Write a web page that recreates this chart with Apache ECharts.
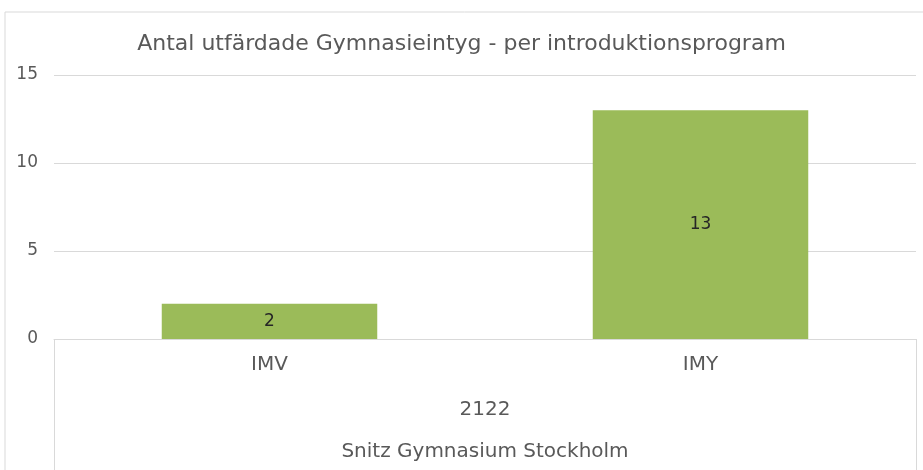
<!DOCTYPE html>
<html>
<head>
<meta charset="utf-8">
<script src="https://cdn.jsdelivr.net/npm/echarts@6/dist/echarts.min.js"></script>
<style>
  html, body { margin: 0; padding: 0; background: #fff; }
  #chart { width: 923px; height: 470px; }
</style>
</head>
<body>
<div id="chart"></div>
<script>
const programs = ["IMV", "IMY"];
const counts = [2, 13];
const yearLabels = ["2122"];
const schoolLabels = ["Snitz Gymnasium Stockholm"];

const font = "'DejaVu Sans', sans-serif";
const grey = "#595959";
const lineColor = "#d9d9d9";

const chart = echarts.init(document.getElementById("chart"));

chart.setOption({
  animation: false,
  textStyle: { fontFamily: font },
  title: {
    text: "Antal utfärdade Gymnasieintyg - per introduktionsprogram",
    left: "center",
    top: 28,
    textStyle: { fontFamily: font, fontSize: 22, fontWeight: "normal", color: grey },
  },
  // chart frame
  graphic: [
    {
      type: "rect",
      shape: { x: 5, y: 12, width: 940, height: 480 },
      style: { fill: "none", stroke: lineColor, lineWidth: 1 },
      silent: true,
    },
  ],
  grid: { left: 54, right: 7, top: 75, bottom: 131 },
  xAxis: [
    {
      type: "category",
      data: programs,
      axisLine: { show: true, lineStyle: { color: lineColor } },
      axisTick: { show: false },
      axisLabel: { color: grey, fontSize: 20, margin: 16 },
    },
    {
      type: "category",
      data: yearLabels,
      position: "bottom",
      axisLine: { show: false },
      axisTick: { show: true, length: 140, lineStyle: { color: lineColor } },
      axisLabel: { color: grey, fontSize: 20, margin: 61 },
    },
    {
      type: "category",
      data: schoolLabels,
      position: "bottom",
      axisLine: { show: false },
      axisTick: { show: false },
      axisLabel: { color: grey, fontSize: 20, margin: 103 },
    },
  ],
  yAxis: {
    type: "value",
    min: 0,
    max: 15,
    interval: 5,
    axisLine: { show: false },
    axisTick: { show: false },
    axisLabel: { color: grey, fontSize: 17, margin: 16 },
    splitLine: { lineStyle: { color: lineColor, width: 1 } },
  },
  series: [
    {
      type: "bar",
      xAxisIndex: 0,
      data: counts,
      barWidth: "50%",
      itemStyle: { color: "#9bbb59" },
      label: {
        show: true,
        position: "inside",
        color: "#262626",
        fontSize: 17,
        fontFamily: font,
      },
    },
  ],
});
</script>
</body>
</html>
